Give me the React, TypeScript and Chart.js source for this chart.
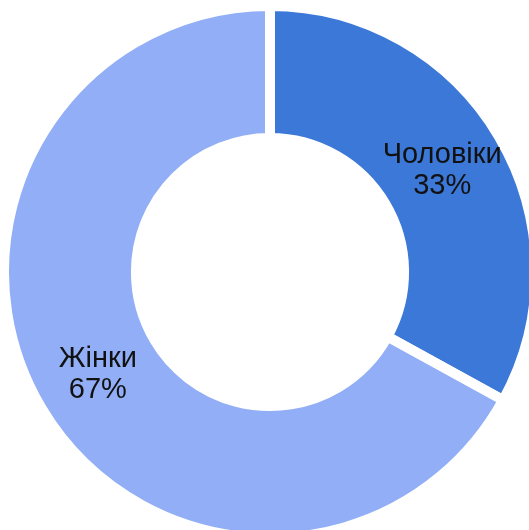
import React, { useEffect, useRef } from "react";
import { Chart, registerables } from "chart.js";

Chart.register(...registerables);

const categories = ["Чоловіки", "Жінки"];
const values = [33, 67];
const percentLabels = ["33%", "67%"];
const colors = ["#3c78d8", "#91aef6"];

const labelPlugin = {
  id: "sliceLabels",
  afterDatasetsDraw(chart: any) {
    const ctx = chart.ctx;
    const meta = chart.getDatasetMeta(0);
    ctx.save();
    ctx.font = '29px "Liberation Sans", Arial, sans-serif';
    ctx.fillStyle = "#111111";
    ctx.textAlign = "center";
    ctx.textBaseline = "middle";
    meta.data.forEach((arc: any, i: number) => {
      const p = arc.getCenterPoint();
      ctx.fillText(categories[i], p.x, p.y - 15);
      ctx.fillText(percentLabels[i], p.x, p.y + 16);
    });
    ctx.restore();
  },
};

export default function App() {
  const ref = useRef<HTMLCanvasElement>(null);
  useEffect(() => {
    document.body.style.margin = "0";
    const chart = new Chart(ref.current!, {
      type: "doughnut",
      data: {
        labels: categories,
        datasets: [
          {
            data: values,
            backgroundColor: colors,
            borderColor: "#ffffff",
            borderWidth: 10,
            borderAlign: "center",
            borderJoinStyle: "miter",
          },
        ],
      },
      options: {
        responsive: false,
        animation: false,
        cutout: "50.4%",
        layout: { padding: { left: 4, top: 4, right: 4, bottom: 4 } },
        plugins: {
          legend: { display: false },
          tooltip: { enabled: false },
        },
      },
      plugins: [labelPlugin],
    });
    return () => chart.destroy();
  }, []);
  return (
    <div style={{ position: "fixed", left: 0, top: 0, width: 529, height: 530, overflow: "hidden", background: "#fff" }}>
      <canvas
        ref={ref}
        width={550}
        height={550}
        style={{ position: "absolute", left: -5, top: -3, width: 550, height: 550 }}
      />
    </div>
  );
}
